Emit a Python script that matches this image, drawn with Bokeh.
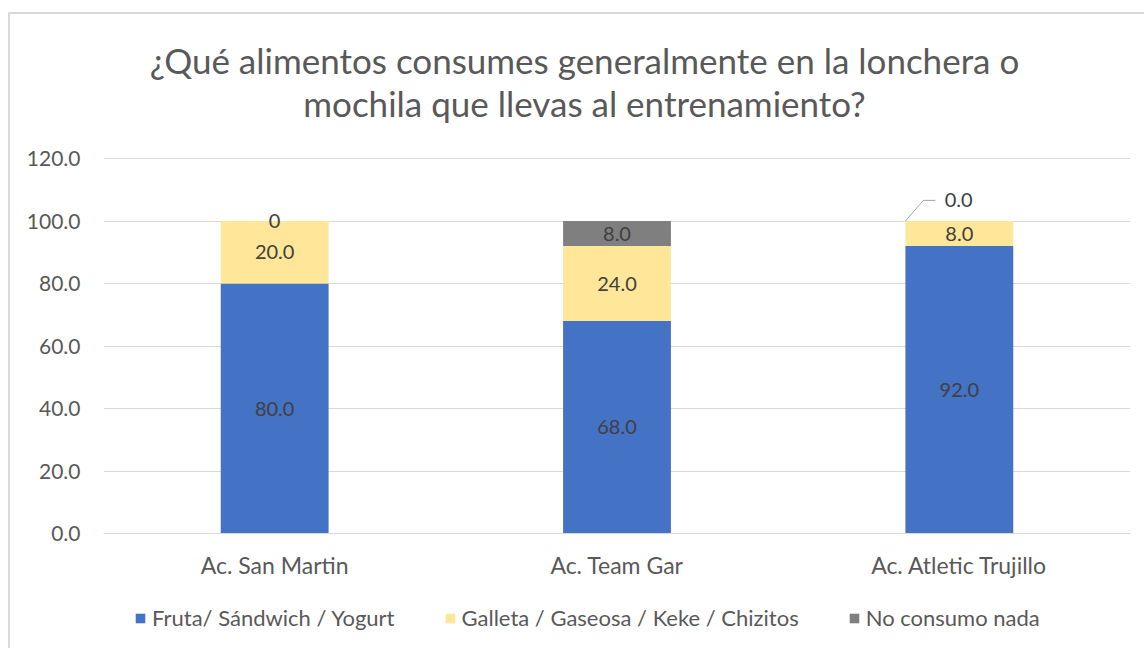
from bokeh.plotting import figure
from bokeh.models import Range1d, FactorRange, Legend, LegendItem, Label, ColumnDataSource
from bokeh.core.properties import value
from bokeh.embed import file_html
from bokeh.resources import INLINE

categories = ["Ac. San Martin", "Ac. Team Gar", "Ac. Atletic Trujillo"]
series = ["Fruta/ Sándwich / Yogurt", "Galleta / Gaseosa / Keke / Chizitos", "No consumo nada"]
fruta = [80.0, 68.0, 92.0]
galleta = [20.0, 24.0, 8.0]
nada = [0.0, 8.0, 0.0]
label_fruta = ["80.0", "68.0", "92.0"]
label_galleta = ["20.0", "24.0", "8.0"]
label_nada = ["0", "8.0", "0.0"]
y_ticks = [0, 20, 40, 60, 80, 100, 120]
title_lines = ["¿Qué alimentos consumes generalmente en la lonchera o",
               "mochila que llevas al entrenamiento?"]

colors = ["#4472C4", "#FFE699", "#7F7F7F"]
FONT = "Lato"
TXT = "#595959"

# frame spans the whole chart area; the value axis runs 0..120 between pixel rows 533 and 158
Y_LO, Y_HI = -37.44, 166.08

p = figure(x_range=FactorRange(*categories), y_range=Range1d(Y_LO, Y_HI),
           width=1136, height=636, output_backend="svg", toolbar_location=None,
           min_border_left=93, min_border_right=16, min_border_top=0, min_border_bottom=0)
p.styles = {"border-left": "2px solid #d9d9d9", "border-top": "2px solid #d9d9d9",
            "margin-left": "8px", "margin-top": "12px"}
p.outline_line_color = None
p.background_fill_color = "white"

src = ColumnDataSource(dict(cat=categories, f=fruta, g=galleta, n=nada))
bw = 0.315
renderers = p.vbar_stack(["f", "g", "n"], x="cat", width=bw, color=colors, source=src, line_color=None)

# data labels
lx, ly, lt = [], [], []
for i, c in enumerate(categories):
    b0 = 0.0
    for vals, labs in ((fruta, label_fruta), (galleta, label_galleta), (nada, label_nada)):
        v = vals[i]
        if not (c == "Ac. Atletic Trujillo" and labs is label_nada):
            lx.append(c); ly.append(b0 + v / 2.0); lt.append(labs[i])
        b0 += v
p.text(x=lx, y=ly, text=lt, text_align="center", text_baseline="middle",
       text_font=value(FONT), text_font_size="20px", text_color="#404040")

# callout for the zero-valued segment of Atletic Trujillo
ci = 2
tot = fruta[ci] + galleta[ci] + nada[ci]
p.line(x=[(categories[ci], -bw / 2), (categories[ci], -0.105), (categories[ci], -0.07)],
       y=[tot, tot + 6.6, tot + 6.6], line_color="#A6A6A6", line_width=1)
p.text(x=[(categories[ci], -0.002)], y=[tot + 6.6], text=[label_nada[ci]], text_align="center",
       text_baseline="middle", text_font=value(FONT), text_font_size="20px", text_color="#404040")

# title (two centred lines)
p.add_layout(Label(x=481, x_units="screen", y=151.6, text=title_lines[0], text_align="center",
                   text_baseline="middle", text_font=FONT, text_font_size="35px", text_color=TXT))
p.add_layout(Label(x=481, x_units="screen", y=137.8, text=title_lines[1], text_align="center",
                   text_baseline="middle", text_font=FONT, text_font_size="35px", text_color=TXT))

# axes
p.yaxis.ticker = y_ticks
p.yaxis.major_label_overrides = {t: f"{t:.1f}" for t in y_ticks}
p.yaxis.axis_line_color = None
p.yaxis.major_tick_line_color = None
p.yaxis.minor_tick_line_color = None
p.yaxis.major_label_standoff = 17
p.yaxis.major_label_text_font = FONT
p.yaxis.major_label_text_font_size = "21px"
p.yaxis.major_label_text_color = TXT

p.xaxis.fixed_location = 0
p.xaxis.axis_line_color = "#D9D9D9"
p.xaxis.major_tick_line_color = None
p.xaxis.minor_tick_line_color = None
p.xaxis.major_label_standoff = 11
p.xaxis.major_label_text_font = FONT
p.xaxis.major_label_text_font_size = "23px"
p.xaxis.major_label_text_color = TXT

p.xgrid.grid_line_color = None
p.ygrid.grid_line_color = "#D9D9D9"
p.ygrid.grid_line_width = 1

legend = Legend(items=[LegendItem(label=s, renderers=[r]) for s, r in zip(series, renderers)],
                orientation="horizontal", location=(31, 19), spacing=49, padding=0, margin=0,
                glyph_width=12, glyph_height=12, label_standoff=6,
                label_text_font=FONT, label_text_font_size="22px", label_text_color=TXT,
                border_line_color=None, background_fill_alpha=0)
p.add_layout(legend, "center")

open("out.html", "w").write(file_html(p, INLINE))
